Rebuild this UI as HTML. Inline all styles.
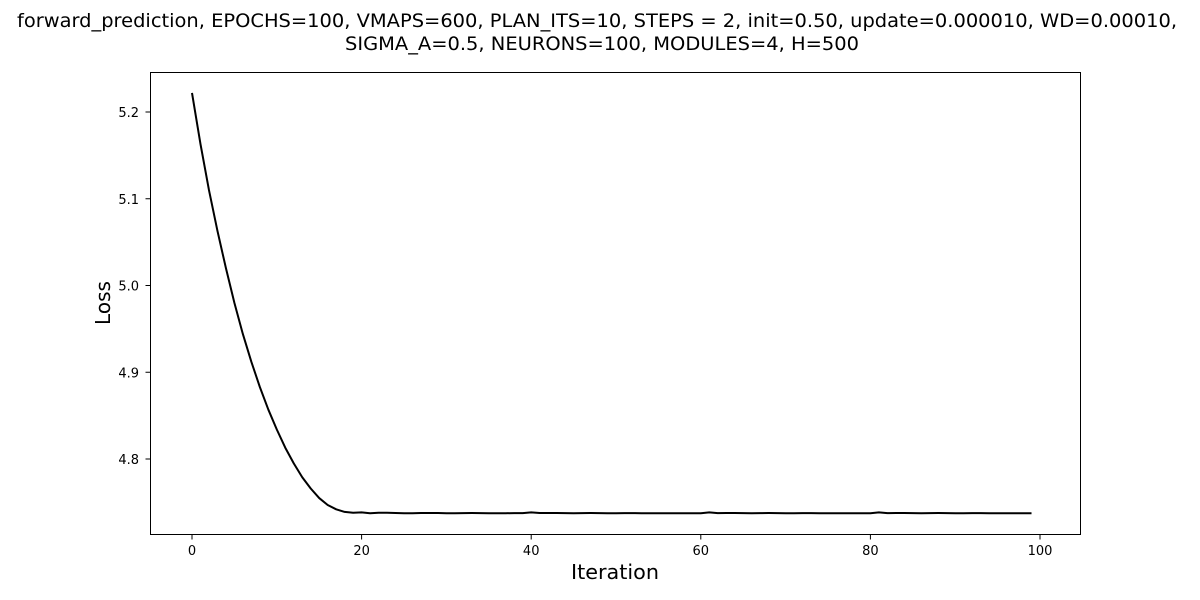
<!DOCTYPE html>
<html><head><meta charset="utf-8"><style>html,body{margin:0;padding:0;background:#fff}svg{display:block}text{font-family:"DejaVu Sans","Liberation Sans",sans-serif;fill:#000}</style></head>
<body>
<svg id="chart" width="1200" height="600" xmlns="http://www.w3.org/2000/svg">
<text x="597" y="27" font-size="19" text-anchor="middle" textLength="1160" lengthAdjust="spacingAndGlyphs">forward_prediction, EPOCHS=100, VMAPS=600, PLAN_ITS=10, STEPS = 2, init=0.50, update=0.000010, WD=0.00010,</text>
<text x="602" y="50" font-size="19" text-anchor="middle" textLength="514" lengthAdjust="spacingAndGlyphs">SIGMA_A=0.5, NEURONS=100, MODULES=4, H=500</text>
<rect x="150.5" y="72.5" width="930" height="462" fill="none" stroke="#000" stroke-width="1"/>
<g id="xt"></g>
<g id="yt"></g>
<path id="line" fill="none" stroke="#000" stroke-width="2" stroke-linejoin="round"/>
<text x="615" y="579" font-size="20" text-anchor="middle" textLength="88" lengthAdjust="spacingAndGlyphs">Iteration</text>
<text transform="translate(110,303) rotate(-90)" font-size="20" text-anchor="middle">Loss</text>
</svg>
<script>
const xTicks=[0,20,40,60,80,100];
const yTicks=[4.8,4.9,5.0,5.1,5.2];
const yTickLabels=["4.8","4.9","5.0","5.1","5.2"];
const head=[5.222,5.163,5.110,5.063,5.020,4.980,4.944,4.912,4.883,4.857,4.834,4.813,4.795,4.779,4.766,4.755,4.747,4.742,4.739,4.738,4.7385,4.7375,4.738,4.738,4.7378,4.7375,4.7375];
const tail=[4.7377,4.7378,4.7377,4.7375,4.7375,4.7376,4.7377,4.7376,4.7375,4.7375,4.7375,4.7376,4.7376,4.7385,4.7377,4.7377,4.7378,4.7376,4.7375,4.7376,4.7377,4.7376,4.7375,4.7375,4.7376,4.7376,4.7375,4.7375,4.7375,4.7375,4.7375,4.7375,4.7375,4.7375,4.7385,4.7376,4.7377,4.7378,4.7376,4.7375,4.7376,4.7377,4.7376,4.7375,4.7375,4.7376,4.7376,4.7375,4.7375,4.7375,4.7375,4.7375,4.7375,4.7375,4.7385,4.7376,4.7377,4.7378,4.7376,4.7375,4.7376,4.7377,4.7376,4.7375,4.7375,4.7376,4.7376,4.7375,4.7375,4.7375,4.7375,4.7375,4.7375];
const loss=head.concat(tail);
const X=v=>192+(v/20)*169.6;
const Y=v=>112+(5.2-v)*867.5;
const NS="http://www.w3.org/2000/svg";
function mk(tag,attrs,parent,txt){const e=document.createElementNS(NS,tag);for(const k in attrs)e.setAttribute(k,attrs[k]);if(txt!==undefined)e.textContent=txt;parent.appendChild(e);return e;}
const xt=document.getElementById('xt'),yt=document.getElementById('yt');
xTicks.forEach(t=>{const x=X(t);
const l=mk('line',{x1:x,x2:x,y1:534.5,y2:539.5,stroke:'#000'},xt);


const tx=mk('text',{x:x,y:555,'font-size':13,'text-anchor':'middle'},xt,String(t));

});
yTicks.forEach((t,i)=>{const y=Y(t);
const l=mk('line',{x1:145.5,x2:150.5,y1:y,y2:y,stroke:'#000'},yt);


const tx=mk('text',{x:139,y:y+5,'font-size':13,'text-anchor':'end'},yt,yTickLabels[i]);

});
document.getElementById('line').setAttribute('d',loss.map((v,i)=>(i?'L':'M')+X(i).toFixed(2)+','+Y(v).toFixed(2)).join(''));
</script>
</body></html>
